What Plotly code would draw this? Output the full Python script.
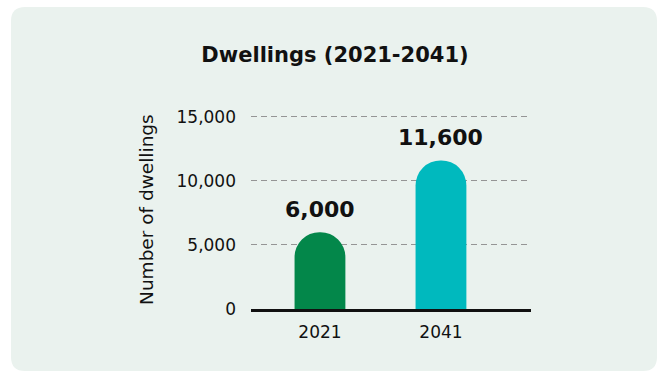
import plotly.graph_objects as go

# ---- data ----
years = ["2021", "2041"]
dwellings = [6000, 11600]
bar_colors = ["#03874A", "#00B9BE"]
y_tick_values = [0, 5000, 10000, 15000]
chart_title = "Dwellings (2021-2041)"
y_title = "Number of dwellings"

W, H = 658, 372
Y_TOP = 15150
L, R, B = 251, 127, 63
PH = 192 * Y_TOP / 15000
T = H - B - PH
PW = W - L - R
FONT = "DejaVu Sans"


def px_to_paper(px, py):
    return (px - L) / PW, (H - B - py) / PH


# rounded card background (pixel geometry converted to paper coords)
cx0, cy0, cx1, cy1, rad = 11, 7, 657, 371, 14
def P(px, py):
    x, y = px_to_paper(px, py)
    return f"{x:.5f},{y:.5f}"

card_path = (
    f"M {P(cx0 + rad, cy0)} L {P(cx1 - rad, cy0)} Q {P(cx1, cy0)} {P(cx1, cy0 + rad)} "
    f"L {P(cx1, cy1 - rad)} Q {P(cx1, cy1)} {P(cx1 - rad, cy1)} "
    f"L {P(cx0 + rad, cy1)} Q {P(cx0, cy1)} {P(cx0, cy1 - rad)} "
    f"L {P(cx0, cy0 + rad)} Q {P(cx0, cy0)} {P(cx0 + rad, cy0)} Z"
)

fig = go.Figure(
    go.Bar(
        x=years,
        y=dwellings,
        marker=dict(color=bar_colors, line=dict(width=0)),
        width=0.42,
        hoverinfo="skip",
    )
)

for i, v in enumerate(dwellings):
    fig.add_annotation(
        x=i, y=v, xref="x", yref="y",
        text=f"<b>{v:,}</b>", showarrow=False,
        yanchor="bottom", yshift=8,
        font=dict(family=FONT, size=22, color="#111111"),
    )

yx, yy = px_to_paper(147, 210)
fig.add_annotation(
    x=yx, y=yy, xref="paper", yref="paper",
    text=y_title, textangle=-90, showarrow=False,
    xanchor="center", yanchor="middle",
    font=dict(family=FONT, size=18.5, color="#111111"),
)

fig.add_shape(
    type="path", path=card_path, xref="paper", yref="paper",
    fillcolor="#EAF2EE", line=dict(width=0), layer="below",
)

fig.update_layout(
    width=W, height=H,
    margin=dict(l=L, r=R, t=T, b=B, pad=0),
    paper_bgcolor="#FFFFFF",
    plot_bgcolor="rgba(0,0,0,0)",
    barcornerradius="50%",
    showlegend=False,
    title=dict(
        text=f"<b>{chart_title}</b>",
        x=335 / W, xanchor="center", xref="container",
        y=1 - 55 / H, yanchor="middle", yref="container",
        font=dict(family=FONT, size=21, color="#111111"),
    ),
    xaxis=dict(
        type="category",
        range=[-0.57, 1.744],
        showline=True, linecolor="#111111", linewidth=2.5,
        showgrid=False, zeroline=False,
        ticks="", ticklabelstandoff=6,
        tickfont=dict(family=FONT, size=17, color="#111111"),
        fixedrange=True,
    ),
    yaxis=dict(
        range=[0, Y_TOP],
        tickvals=y_tick_values,
        tickformat=",",
        showgrid=True, gridcolor="#959595", gridwidth=1, griddash="6px,4px",
        zeroline=False, showline=False,
        ticks="", ticklabelstandoff=14,
        tickfont=dict(family=FONT, size=17, color="#111111"),
        fixedrange=True,
    ),
)

fig.write_html("out.html", config={"displayModeBar": False})
